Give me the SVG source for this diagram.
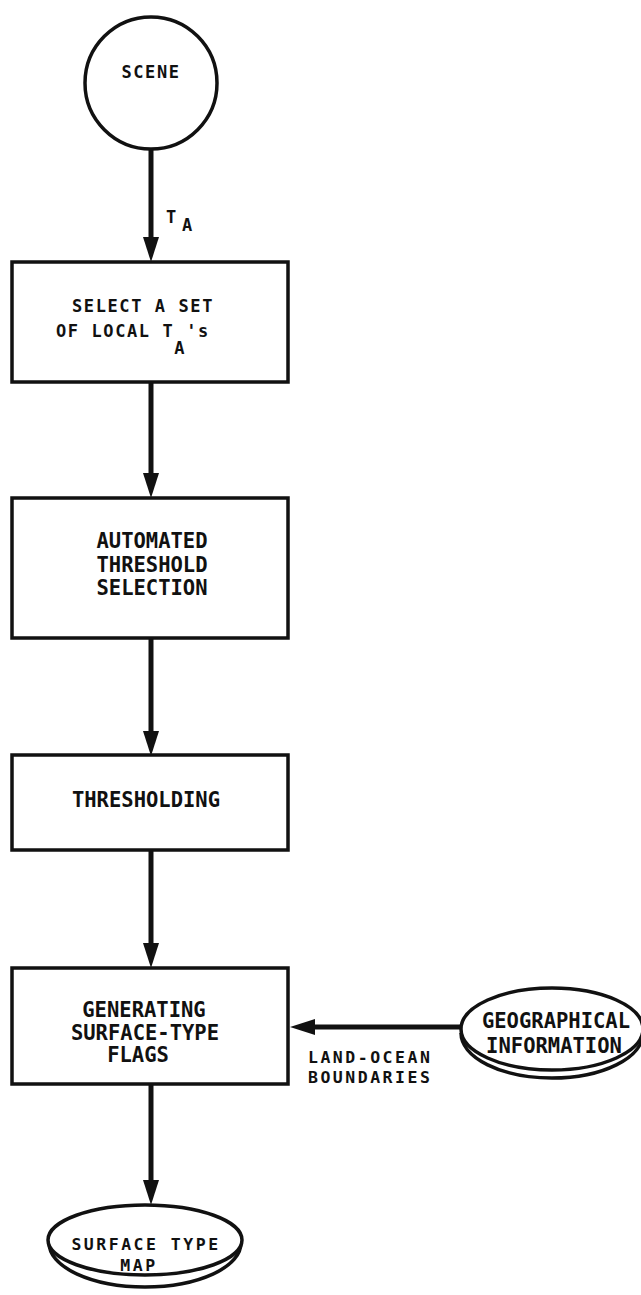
<svg xmlns="http://www.w3.org/2000/svg" width="641" height="1295" viewBox="0 0 641 1295">
<style>
  .shape { fill: #fff; stroke: #111; stroke-width: 3.5; }
  .rim { fill: none; stroke: #111; stroke-width: 3.5; }
  .conn { fill: none; stroke: #111; stroke-width: 5; }
  .t { font-family: "DejaVu Sans Mono", "Liberation Mono", monospace; font-size: 20.5px; font-weight: bold; fill: #111; }
  .ts { font-family: "DejaVu Sans Mono", "Liberation Mono", monospace; font-size: 17px; font-weight: bold; fill: #111; letter-spacing: 1.6px; }
  .tc { font-family: "DejaVu Sans Mono", "Liberation Mono", monospace; font-size: 16.5px; font-weight: bold; fill: #111; letter-spacing: 2.5px; }
  .m { text-anchor: middle; }
</style>
<defs>
  <marker id="ah" viewBox="0 0 25 16" refX="0" refY="8" markerWidth="25" markerHeight="16" markerUnits="userSpaceOnUse" orient="auto">
    <path d="M0,0 L25,8 L0,16 Z" fill="#111"/>
  </marker>
</defs>
<rect width="641" height="1295" fill="#fff"/>

<g id="connectors">
  <line class="conn" x1="151" y1="150" x2="151" y2="237" marker-end="url(#ah)"/>
  <line class="conn" x1="151" y1="382" x2="151" y2="473" marker-end="url(#ah)"/>
  <line class="conn" x1="151" y1="638" x2="151" y2="731" marker-end="url(#ah)"/>
  <line class="conn" x1="151" y1="850" x2="151" y2="943" marker-end="url(#ah)"/>
  <line class="conn" x1="151" y1="1084" x2="151" y2="1180" marker-end="url(#ah)"/>
  <line class="conn" x1="461" y1="1027" x2="315" y2="1027" marker-end="url(#ah)"/>
  <text class="ts" x="166" y="223">T</text>
  <text class="ts" x="182" y="231">A</text>
  <text class="tc" x="308" y="1063">LAND-OCEAN</text>
  <text class="tc" x="308" y="1083">BOUNDARIES</text>
</g>

<g id="scene">
  <circle class="shape" cx="151" cy="83" r="66"/>
  <text class="ts m" x="151" y="78">SCENE</text>
</g>

<g id="select">
  <rect class="shape" x="12" y="262" width="276" height="120"/>
  <text class="ts m" x="143" y="312">SELECT A SET</text>
  <text class="ts" x="56" y="337">OF LOCAL T<tspan dy="17">A</tspan><tspan dy="-17">'s</tspan></text>
</g>

<g id="automated">
  <rect class="shape" x="12" y="498" width="276" height="140"/>
  <text class="t m" x="152" y="548">AUTOMATED</text>
  <text class="t m" x="152" y="572">THRESHOLD</text>
  <text class="t m" x="152" y="595">SELECTION</text>
</g>

<g id="thresholding">
  <rect class="shape" x="12" y="755" width="276" height="95"/>
  <text class="t m" x="146" y="807">THRESHOLDING</text>
</g>

<g id="generating">
  <rect class="shape" x="12" y="968" width="276" height="116"/>
  <text class="t m" x="144" y="1017">GENERATING</text>
  <text class="t m" x="145" y="1040">SURFACE-TYPE</text>
  <text class="t m" x="138" y="1062">FLAGS</text>
</g>

<g id="geographical">
  <path class="rim" d="M461,1033 A91,45 0 0 0 643,1033"/>
  <ellipse class="shape" cx="552" cy="1029" rx="91" ry="41"/>
  <text class="t m" x="556" y="1028">GEOGRAPHICAL</text>
  <text class="t m" x="554" y="1053">INFORMATION</text>
</g>

<g id="surface-map">
  <path class="rim" d="M49,1243 A96,44 0 0 0 241,1243"/>
  <ellipse class="shape" cx="145" cy="1240" rx="97" ry="35"/>
  <text class="tc m" x="146" y="1250">SURFACE TYPE</text>
  <text class="tc m" x="139" y="1271">MAP</text>
</g>
</svg>
